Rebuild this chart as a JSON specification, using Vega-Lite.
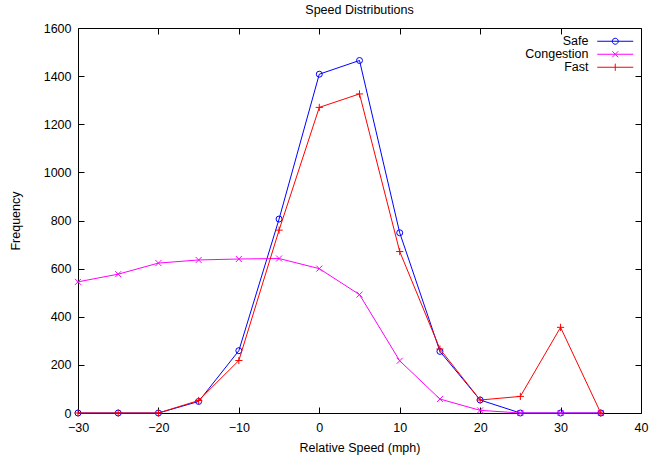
{
  "$schema": "https://vega.github.io/schema/vega-lite/v6.json",
  "width": 563,
  "height": 385,
  "autosize": "none",
  "padding": {"left": 78, "top": 28, "right": 24, "bottom": 45},
  "background": "white",
  "title": {"text": "Speed Distributions", "fontSize": 12.5, "fontWeight": "normal", "font": "Liberation Sans", "color": "black", "offset": 6},
  "config": {
    "view": {"stroke": "black", "strokeWidth": 1},
    "axis": {"domain": false, "grid": false, "tickColor": "black", "tickSize": -6, "tickWidth": 1, "format": "d", "labelFlush": false, "labelFont": "Liberation Sans", "labelFontSize": 12.5, "labelColor": "black", "titleFont": "Liberation Sans", "titleFontSize": 12.5, "titleFontWeight": "normal", "titleColor": "black"}
  },
  "data": {"values": [
    {"series": "Safe", "speed": -30, "freq": 0},
    {"series": "Safe", "speed": -25, "freq": 0},
    {"series": "Safe", "speed": -20, "freq": 0},
    {"series": "Safe", "speed": -15, "freq": 48},
    {"series": "Safe", "speed": -10, "freq": 259},
    {"series": "Safe", "speed": -5, "freq": 806},
    {"series": "Safe", "speed": 0, "freq": 1408},
    {"series": "Safe", "speed": 5, "freq": 1465},
    {"series": "Safe", "speed": 10, "freq": 749},
    {"series": "Safe", "speed": 15, "freq": 256},
    {"series": "Safe", "speed": 20, "freq": 54},
    {"series": "Safe", "speed": 25, "freq": 0},
    {"series": "Safe", "speed": 30, "freq": 0},
    {"series": "Safe", "speed": 35, "freq": 0},
    {"series": "Congestion", "speed": -30, "freq": 545},
    {"series": "Congestion", "speed": -25, "freq": 577},
    {"series": "Congestion", "speed": -20, "freq": 623},
    {"series": "Congestion", "speed": -15, "freq": 636},
    {"series": "Congestion", "speed": -10, "freq": 640},
    {"series": "Congestion", "speed": -5, "freq": 642},
    {"series": "Congestion", "speed": 0, "freq": 600},
    {"series": "Congestion", "speed": 5, "freq": 492},
    {"series": "Congestion", "speed": 10, "freq": 217},
    {"series": "Congestion", "speed": 15, "freq": 58},
    {"series": "Congestion", "speed": 20, "freq": 11},
    {"series": "Congestion", "speed": 25, "freq": 0},
    {"series": "Congestion", "speed": 30, "freq": 0},
    {"series": "Congestion", "speed": 35, "freq": 0},
    {"series": "Fast", "speed": -30, "freq": 0},
    {"series": "Fast", "speed": -25, "freq": 0},
    {"series": "Fast", "speed": -20, "freq": 0},
    {"series": "Fast", "speed": -15, "freq": 52},
    {"series": "Fast", "speed": -10, "freq": 218},
    {"series": "Fast", "speed": -5, "freq": 760},
    {"series": "Fast", "speed": 0, "freq": 1270},
    {"series": "Fast", "speed": 5, "freq": 1326},
    {"series": "Fast", "speed": 10, "freq": 671},
    {"series": "Fast", "speed": 15, "freq": 266},
    {"series": "Fast", "speed": 20, "freq": 54},
    {"series": "Fast", "speed": 25, "freq": 69},
    {"series": "Fast", "speed": 30, "freq": 356},
    {"series": "Fast", "speed": 35, "freq": 0}
  ]},
  "layer": [
    {
      "transform": [{"filter": "datum.series == 'Safe'"}],
      "mark": {"type": "line", "strokeWidth": 1, "color": "#0000ff"},
      "encoding": {
        "x": {"field": "speed", "type": "quantitative", "scale": {"domain": [-30, 40], "nice": false, "zero": false},
              "axis": {"orient": "bottom", "values": [-30, -20, -10, 0, 10, 20, 30, 40], "title": "Relative Speed (mph)", "labelPadding": 14, "titlePadding": 8}},
        "y": {"field": "freq", "type": "quantitative", "scale": {"domain": [0, 1600], "nice": false},
              "axis": {"orient": "left", "values": [0, 200, 400, 600, 800, 1000, 1200, 1400, 1600], "title": "Frequency", "labelPadding": 13, "titlePadding": 21}}
      }
    },
    {
      "transform": [{"filter": "datum.series == 'Safe'"}],
      "mark": {"type": "point", "filled": false, "strokeWidth": 1, "size": 36, "opacity": 1, "shape": "circle", "color": "#0000ff"},
      "encoding": {
        "x": {"field": "speed", "type": "quantitative", "axis": null},
        "y": {"field": "freq", "type": "quantitative", "axis": null}
      }
    },
    {
      "transform": [{"filter": "datum.series == 'Congestion'"}],
      "mark": {"type": "line", "strokeWidth": 1, "color": "#ff00ff"},
      "encoding": {
        "x": {"field": "speed", "type": "quantitative", "axis": null},
        "y": {"field": "freq", "type": "quantitative", "axis": null}
      }
    },
    {
      "transform": [{"filter": "datum.series == 'Congestion'"}],
      "mark": {"type": "point", "filled": false, "strokeWidth": 1, "size": 36, "opacity": 1, "shape": "M-1,-1L1,1M-1,1L1,-1", "color": "#ff00ff"},
      "encoding": {
        "x": {"field": "speed", "type": "quantitative", "axis": null},
        "y": {"field": "freq", "type": "quantitative", "axis": null}
      }
    },
    {
      "transform": [{"filter": "datum.series == 'Fast'"}],
      "mark": {"type": "line", "strokeWidth": 1, "color": "#ff0000"},
      "encoding": {
        "x": {"field": "speed", "type": "quantitative", "axis": null},
        "y": {"field": "freq", "type": "quantitative", "axis": null}
      }
    },
    {
      "transform": [{"filter": "datum.series == 'Fast'"}],
      "mark": {"type": "point", "filled": false, "strokeWidth": 1, "size": 36, "opacity": 1, "shape": "M-1.2,0H1.2M0,-1.2V1.2", "color": "#ff0000"},
      "encoding": {
        "x": {"field": "speed", "type": "quantitative", "axis": null},
        "y": {"field": "freq", "type": "quantitative", "axis": null}
      }
    },
    {
      "transform": [{"filter": "false"}],
      "mark": {"type": "point", "filled": false, "strokeWidth": 1, "size": 36, "opacity": 1},
      "encoding": {
        "x": {"field": "speed", "type": "quantitative", "axis": null},
        "y": {"field": "freq", "type": "quantitative", "axis": null},
        "color": {"field": "series", "type": "nominal",
                  "scale": {"domain": ["Safe", "Congestion", "Fast"], "range": ["#0000ff", "#ff00ff", "#ff0000"]},
                  "legend": {
                    "orient": "none", "legendX": 531, "legendY": 7, "title": null, "padding": 0,
                    "labelAlign": "right", "labelOffset": -33, "labelFont": "Liberation Sans", "labelFontSize": 12.5, "labelColor": "black",
                    "symbolSize": 36, "symbolStrokeWidth": 1, "rowPadding": -1
                  }},
        "shape": {"field": "series", "type": "nominal",
                  "scale": {"domain": ["Safe", "Congestion", "Fast"],
                            "range": ["M-6,0H6M1,0A1,1 0 1,1 -1,0A1,1 0 1,1 1,0", "M-6,0H6M-1,-1L1,1M-1,1L1,-1", "M-6,0H6M0,-1.2V1.2"]},
                  "legend": {
                    "orient": "none", "legendX": 531, "legendY": 7, "title": null, "padding": 0,
                    "labelAlign": "right", "labelOffset": -33, "labelFont": "Liberation Sans", "labelFontSize": 12.5, "labelColor": "black",
                    "symbolSize": 36, "symbolStrokeWidth": 1, "rowPadding": -1
                  }}
      }
    },
    {
      "mark": {"type": "point", "opacity": 0},
      "encoding": {
        "x": {"field": "speed", "type": "quantitative", "axis": {"orient": "top", "values": [-30, -20, -10, 0, 10, 20, 30, 40], "labels": false, "title": null}},
        "y": {"field": "freq", "type": "quantitative", "axis": {"orient": "right", "values": [0, 200, 400, 600, 800, 1000, 1200, 1400, 1600], "labels": false, "title": null}}
      }
    }
  ],
  "resolve": {"axis": {"x": "independent", "y": "independent"}}
}
